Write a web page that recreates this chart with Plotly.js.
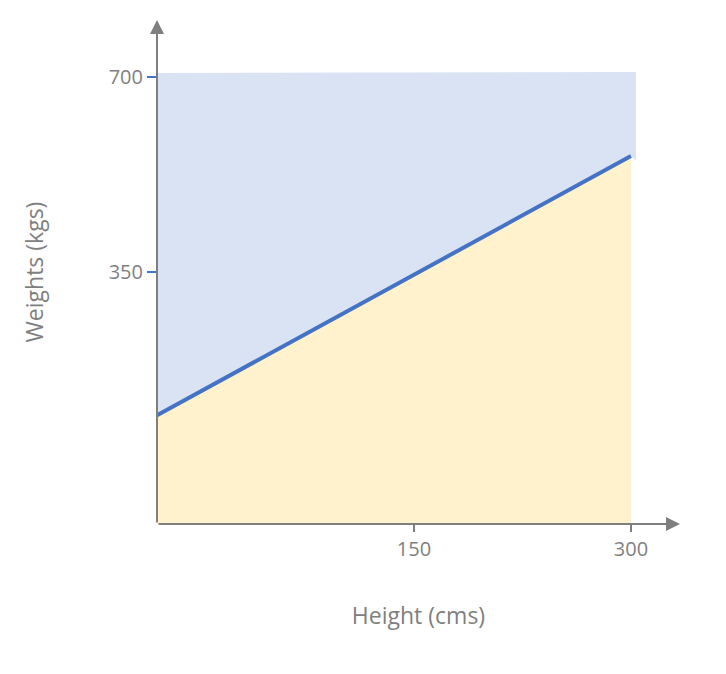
<!DOCTYPE html>
<html>
<head>
<meta charset="utf-8">
<script src="https://cdn.plot.ly/plotly-3.0.1.min.js"></script>
<style>html,body{margin:0;padding:0;background:#fff;}#chart{width:726px;height:674px;}</style>
</head>
<body>
<div id="chart"></div>
<script>
// Data
var xTicks = [150, 300];
var yTicks = [350, 700];
var xTickLabels = ['150', '300'];
var yTickLabels = ['350', '700'];

var lineX = [-27.6, 300];
var lineY = [93, 558];

var upperX = [-27.6, -27.6, 303.5, 303.5, 300];
var upperY = [93, 707, 709, 550, 558];

var lowerX = [-27.6, -27.6, 300, 300];
var lowerY = [-102, 93, 558, -102];

var xRange = [-27.65, 333.9];
var yRange = [-102.3, 802.3];

var grey = '#7f7f7f';
var font = 'Open Sans, Noto Sans, sans-serif';

var traces = [
  {x: upperX, y: upperY, type: 'scatter', mode: 'none', fill: 'toself', fillcolor: '#dae3f3', hoverinfo: 'skip', showlegend: false},
  {x: lowerX, y: lowerY, type: 'scatter', mode: 'none', fill: 'toself', fillcolor: '#fff2cc', hoverinfo: 'skip', showlegend: false},
  {x: lineX, y: lineY, type: 'scatter', mode: 'lines', line: {color: '#4472c4', width: 4}, showlegend: false}
];

var layout = {
  width: 726, height: 674,
  margin: {l: 157, r: 46, t: 20, b: 150},
  paper_bgcolor: '#ffffff', plot_bgcolor: 'rgba(0,0,0,0)',
  showlegend: false,
  xaxis: {
    range: xRange, tickvals: xTicks, ticktext: xTickLabels,
    showgrid: false, zeroline: false, showline: false,
    ticks: 'outside', ticklen: 7, tickwidth: 2, tickcolor: grey,
    tickfont: {family: font, size: 20, color: grey},
    title: {text: 'Height (cms)', font: {family: font, size: 23, color: grey}, standoff: 46}
  },
  yaxis: {
    range: yRange, tickvals: yTicks, ticktext: yTickLabels,
    showgrid: false, zeroline: false, showline: false,
    ticks: 'outside', ticklen: 9, tickwidth: 2, tickcolor: '#4472c4',
    tickfont: {family: font, size: 20, color: grey},
    title: {text: 'Weights (kgs)', font: {family: font, size: 23, color: grey}, standoff: 58}
  },
  annotations: [
    {xref: 'paper', yref: 'paper', x: 0, y: 1, ax: 0, ay: 504, axref: 'pixel', ayref: 'pixel', text: '', showarrow: true, arrowhead: 2, arrowsize: 1.4, arrowwidth: 2, arrowcolor: grey, standoff: 0, startstandoff: 0},
    {xref: 'paper', yref: 'paper', x: 1, y: 0, ax: -523, ay: 0, axref: 'pixel', ayref: 'pixel', text: '', showarrow: true, arrowhead: 2, arrowsize: 1.4, arrowwidth: 2, arrowcolor: grey, standoff: 0, startstandoff: 0}
  ]
};

Plotly.newPlot('chart', traces, layout, {displayModeBar: false, staticPlot: true});
</script>
</body>
</html>
